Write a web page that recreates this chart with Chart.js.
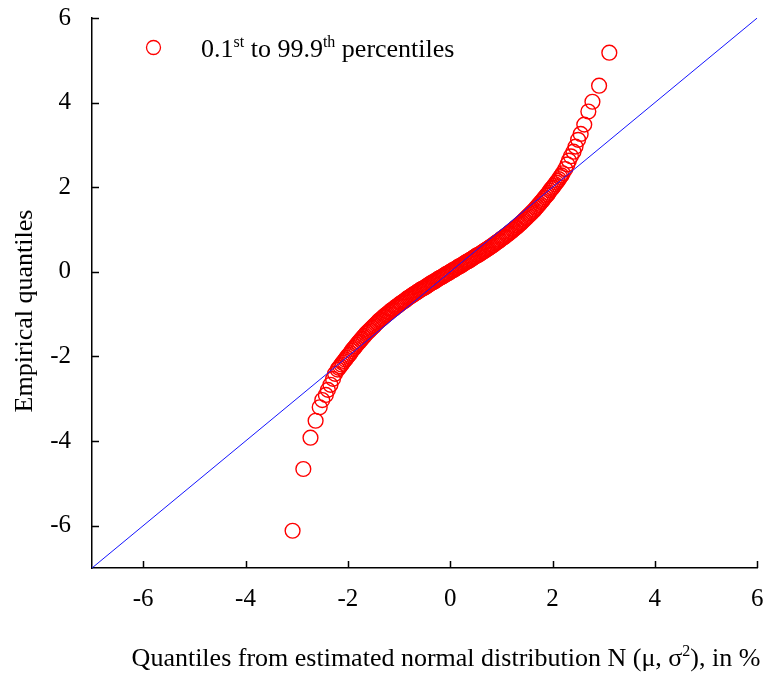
<!DOCTYPE html>
<html>
<head>
<meta charset="utf-8">
<title>Q-Q plot</title>
<script src="https://cdn.jsdelivr.net/npm/chart.js@4.4.1/dist/chart.umd.min.js"></script>
<style>
  html, body { margin: 0; padding: 0; background: #fff; }
  #wrap { width: 766px; height: 673px; position: relative; }
</style>
</head>
<body>
<div id="wrap"><canvas id="qqChart"></canvas></div>
<script>
// Quantiles: x = normal quantile, y = empirical quantile
const lowerTailX = [-3.08, -2.87, -2.73, -2.63, -2.55, -2.50, -2.43, -2.39, -2.34, -2.29, -2.25];
const lowerTailY = [-6.12, -4.66, -3.92, -3.52, -3.20, -3.03, -2.91, -2.79, -2.67, -2.53, -2.41];

const bodyX = [
  -2.2, -2.175, -2.15, -2.125, -2.1, -2.075, -2.05, -2.025, -2, -1.975, -1.95, -1.925, -1.9, -1.875, -1.85,
  -1.825, -1.8, -1.775, -1.75, -1.725, -1.7, -1.675, -1.65, -1.625, -1.6, -1.575, -1.55, -1.525, -1.5,
  -1.475, -1.45, -1.425, -1.4, -1.375, -1.35, -1.325, -1.3, -1.275, -1.25, -1.225, -1.2, -1.175, -1.15,
  -1.125, -1.1, -1.075, -1.05, -1.025, -1, -0.975, -0.95, -0.925, -0.9, -0.875, -0.85, -0.825, -0.8,
  -0.775, -0.75, -0.725, -0.7, -0.675, -0.65, -0.625, -0.6, -0.575, -0.55, -0.525, -0.5, -0.475, -0.45,
  -0.425, -0.4, -0.375, -0.35, -0.325, -0.3, -0.275, -0.25, -0.225, -0.2, -0.175, -0.15, -0.125, -0.1,
  -0.075, -0.05, -0.025, 0,
  0.025, 0.05, 0.075, 0.1, 0.125, 0.15, 0.175, 0.2, 0.225, 0.25, 0.275, 0.3, 0.325, 0.35, 0.375, 0.4,
  0.425, 0.45, 0.475, 0.5, 0.525, 0.55, 0.575, 0.6, 0.625, 0.65, 0.675, 0.7, 0.725, 0.75, 0.775, 0.8,
  0.825, 0.85, 0.875, 0.9, 0.925, 0.95, 0.975, 1, 1.025, 1.05, 1.075, 1.1, 1.125, 1.15, 1.175, 1.2,
  1.225, 1.25, 1.275, 1.3, 1.325, 1.35, 1.375, 1.4, 1.425, 1.45, 1.475, 1.5, 1.525, 1.55, 1.575, 1.6,
  1.625, 1.65, 1.675, 1.7, 1.725, 1.75, 1.775, 1.8, 1.825, 1.85, 1.875, 1.9, 1.925, 1.95, 1.975, 2,
  2.025, 2.05, 2.075, 2.1, 2.125, 2.15, 2.175, 2.2
];
const bodyY = [
  -2.31, -2.27, -2.23, -2.19, -2.15, -2.11, -2.07, -2.03, -1.99, -1.96, -1.92, -1.87, -1.83, -1.80, -1.76,
  -1.72, -1.68, -1.65, -1.61, -1.58, -1.54, -1.51, -1.47, -1.44, -1.41, -1.38, -1.35, -1.32, -1.29,
  -1.26, -1.23, -1.20, -1.17, -1.14, -1.12, -1.09, -1.06, -1.04, -1.01, -0.99, -0.96, -0.94, -0.91,
  -0.89, -0.87, -0.84, -0.82, -0.80, -0.78, -0.75, -0.73, -0.71, -0.69, -0.67, -0.64, -0.62, -0.60,
  -0.58, -0.56, -0.54, -0.52, -0.50, -0.48, -0.46, -0.44, -0.42, -0.40, -0.39, -0.37, -0.35, -0.33,
  -0.31, -0.29, -0.27, -0.25, -0.24, -0.22, -0.20, -0.18, -0.16, -0.14, -0.13, -0.11, -0.09, -0.07,
  -0.05, -0.04, -0.02, 0,
  0.02, 0.04, 0.05, 0.07, 0.09, 0.11, 0.13, 0.14, 0.16, 0.18, 0.20, 0.22, 0.24, 0.25, 0.27, 0.29,
  0.31, 0.33, 0.35, 0.37, 0.39, 0.40, 0.42, 0.44, 0.46, 0.48, 0.50, 0.52, 0.54, 0.56, 0.58, 0.60,
  0.62, 0.64, 0.67, 0.69, 0.71, 0.73, 0.75, 0.78, 0.80, 0.82, 0.84, 0.87, 0.89, 0.91, 0.94, 0.96,
  0.99, 1.01, 1.04, 1.06, 1.09, 1.12, 1.14, 1.17, 1.20, 1.23, 1.26, 1.29, 1.32, 1.35, 1.38, 1.41,
  1.44, 1.47, 1.51, 1.54, 1.58, 1.61, 1.65, 1.68, 1.72, 1.76, 1.80, 1.83, 1.87, 1.92, 1.96, 1.99,
  2.03, 2.07, 2.11, 2.15, 2.19, 2.24, 2.28, 2.33
];

const upperTailX = [2.25, 2.29, 2.32, 2.36, 2.41, 2.45, 2.50, 2.55, 2.62, 2.70, 2.78, 2.91, 3.11];
const upperTailY = [2.43, 2.54, 2.63, 2.73, 2.84, 2.96, 3.12, 3.26, 3.48, 3.79, 4.02, 4.40, 5.18];

// 45 degree reference line
const refLineX = [-7, 6];
const refLineY = [-7, 6];

const xTicks = [-6, -4, -2, 0, 2, 4, 6];
const yTicks = [-6, -4, -2, 0, 2, 4, 6];

const legendLabel = [{ t: '0.1' }, { t: 'st', sup: true }, { t: ' to 99.9' }, { t: 'th', sup: true }, { t: ' percentiles' }];
const xTitle = [{ t: 'Quantiles from estimated normal distribution N (\u03bc, \u03c3' }, { t: '2', sup: true }, { t: '), in %' }];
const yTitle = 'Empirical quantiles';

const serif = '"Liberation Serif", "Times New Roman", serif';
const RED = 'rgb(255, 0, 0)';

Chart.defaults.font.family = serif;
Chart.defaults.font.size = 25;
Chart.defaults.color = '#000';

function zip(xs, ys) {
    return xs.map((x, i) => ({ x: x, y: ys[i] }));
}

const qqPoints = zip(lowerTailX, lowerTailY)
    .concat(zip(bodyX, bodyY))
    .concat(zip(upperTailX, upperTailY));

// text with superscripts, drawn piece by piece
function drawRich(ctx, parts, x, y, size, align) {
    const supSize = Math.round(size * 0.62);
    const widthOf = p => {
        ctx.font = (p.sup ? supSize : size) + 'px ' + serif;
        return ctx.measureText(p.t).width;
    };
    const total = parts.reduce((s, p) => s + widthOf(p), 0);
    let cx = align === 'center' ? x - total / 2 : x;
    ctx.textAlign = 'left';
    ctx.textBaseline = 'alphabetic';
    parts.forEach(p => {
        const w = widthOf(p);
        ctx.fillText(p.t, cx, p.sup ? y - size * 0.4 : y);
        cx += w;
    });
}

const decorPlugin = {
    id: 'qqDecor',
    afterDraw(chart) {
        const ctx = chart.ctx;
        const area = chart.chartArea;
        const xs = chart.scales.x;
        const ys = chart.scales.y;
        ctx.save();

        // tick marks point into the plot
        ctx.strokeStyle = '#000';
        ctx.lineWidth = 1.5;
        ctx.beginPath();
        xTicks.forEach(v => {
            const px = Math.round(xs.getPixelForValue(v)) + 0.5;
            ctx.moveTo(px, area.bottom);
            ctx.lineTo(px, area.bottom - 7);
        });
        yTicks.forEach(v => {
            const py = Math.round(ys.getPixelForValue(v)) + 0.5;
            ctx.moveTo(area.left, py);
            ctx.lineTo(area.left + 7, py);
        });
        ctx.stroke();

        // legend
        ctx.strokeStyle = RED;
        ctx.lineWidth = 1.3;
        ctx.beginPath();
        ctx.arc(153.5, 47.5, 7, 0, Math.PI * 2);
        ctx.stroke();
        ctx.fillStyle = '#000';
        drawRich(ctx, legendLabel, 201, 57, 26, 'left');

        // axis titles
        drawRich(ctx, xTitle, 446, 666, 26, 'center');
        ctx.translate(32, 311);
        ctx.rotate(-Math.PI / 2);
        ctx.font = '26px ' + serif;
        ctx.textAlign = 'center';
        ctx.textBaseline = 'alphabetic';
        ctx.fillText(yTitle, 0, 0);

        ctx.restore();
    }
};

const ctx = document.getElementById('qqChart').getContext('2d');
const qqChart = new Chart(ctx, {
    type: 'scatter',
    data: {
        datasets: [{
            type: 'line',
            label: 'y = x',
            data: zip(refLineX, refLineY),
            borderColor: 'rgb(20, 20, 255)',
            borderWidth: 1,
            pointRadius: 0,
            fill: false,
            order: 0
        }, {
            label: 'percentiles',
            data: qqPoints,
            pointStyle: 'circle',
            pointRadius: 7.4,
            pointBorderWidth: 1.4,
            pointBorderColor: RED,
            pointBackgroundColor: 'rgba(0, 0, 0, 0)',
            order: 1
        }]
    },
    options: {
        responsive: true,
        maintainAspectRatio: false,
        animation: false,
        layout: { padding: { left: 0, right: 8, top: 18, bottom: 0 } },
        plugins: {
            legend: { display: false },
            tooltip: { enabled: false }
        },
        scales: {
            x: {
                type: 'linear',
                min: -7,
                max: 6,
                afterBuildTicks: s => { s.ticks = xTicks.map(v => ({ value: v })); },
                afterFit: s => { s.height = 105; s.paddingLeft = 0; s.paddingRight = 0; },
                grid: { display: false, drawTicks: false },
                border: { display: true, color: '#000', width: 1.5 },
                ticks: { color: '#000', padding: 16, maxRotation: 0, font: { family: serif, size: 25 } }
            },
            y: {
                type: 'linear',
                min: -7,
                max: 6,
                afterBuildTicks: s => { s.ticks = yTicks.map(v => ({ value: v })); },
                afterFit: s => { s.width = 92; s.paddingTop = 0; s.paddingBottom = 0; },
                grid: { display: false, drawTicks: false },
                border: { display: true, color: '#000', width: 1.5 },
                ticks: { color: '#000', padding: 21, font: { family: serif, size: 25 } }
            }
        }
    },
    plugins: [decorPlugin]
});
</script>
</body>
</html>
